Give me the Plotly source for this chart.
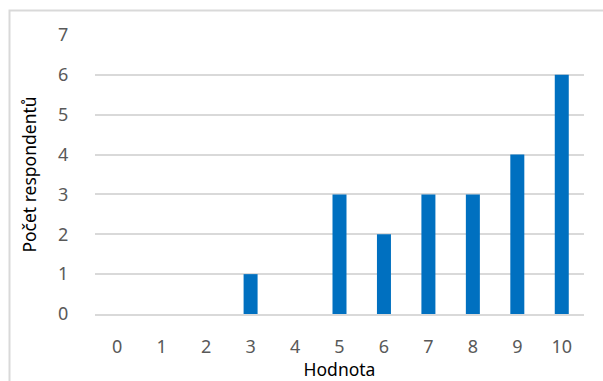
import plotly.graph_objects as go

categories = ["0", "1", "2", "3", "4", "5", "6", "7", "8", "9", "10"]
counts = [0, 0, 0, 1, 0, 3, 2, 3, 3, 4, 6]
x_title = "Hodnota"
y_title = "Počet respondentů"

W, H = 603, 381
L, R, T, B = 95, 19, 35, 67
pw = W - L - R
ph = H - T - B

fig = go.Figure(go.Bar(x=categories, y=counts, marker=dict(color="#0070C0", line=dict(width=0))))

def px2x(px):
    return (px - L) / pw

def py2y(py):
    return (H - B - py) / ph

fig.update_layout(
    width=W, height=H,
    margin=dict(l=L, r=R, t=T, b=B, autoexpand=False),
    paper_bgcolor="white", plot_bgcolor="white",
    bargap=0.685,
    showlegend=False,
    font=dict(family="Noto Sans, Liberation Sans, sans-serif"),
    shapes=[dict(type="rect", xref="paper", yref="paper",
                 x0=px2x(9.5), x1=px2x(W + 5), y0=py2y(H + 5), y1=py2y(10.5),
                 line=dict(color="#D9D9D9", width=2), layer="below")],
)
fig.update_xaxes(
    type="category", showgrid=False, showline=True, linecolor="#D9D9D9", linewidth=2,
    automargin=False,
    ticks="outside", ticklen=15, tickcolor="rgba(0,0,0,0)",
    tickfont=dict(size=18, color="#595959"),
    title=dict(text=x_title, font=dict(size=17.5, color="#000000"), standoff=5),
)
fig.update_yaxes(
    range=[0, 7], dtick=1, showgrid=True, gridcolor="#D9D9D9", gridwidth=2,
    zeroline=False, showline=False, automargin=False,
    ticks="outside", ticklen=22, tickcolor="rgba(0,0,0,0)",
    tickfont=dict(size=18, color="#595959"),
    title=dict(text=y_title, font=dict(size=17.5, color="#000000"), standoff=16),
)
fig.write_html("out.html", config={"displayModeBar": False},
               post_script="document.body.style.margin='0';document.body.style.overflow='hidden';")
